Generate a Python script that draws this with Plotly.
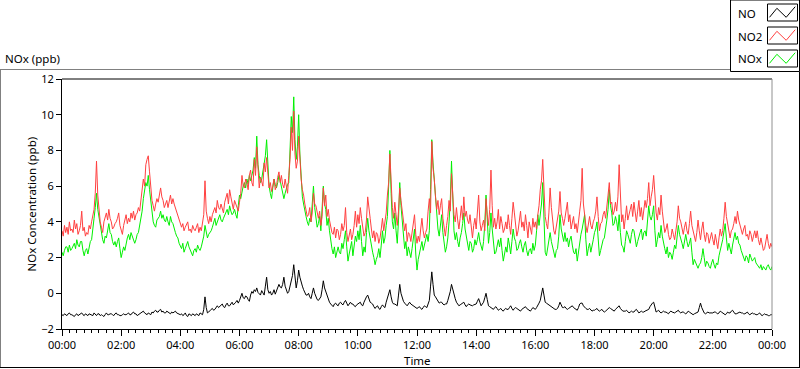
import pandas as pd
import plotly.graph_objects as go

# ---------------- data ----------------
# main samples every 5 minutes (00:00 .. 24:00, 289 values) and the
# in-between readings at hh:mm+2.5 min (288 values) for each series
times = pd.date_range("2024-01-01 00:00", "2024-01-02 00:00", freq="150s")

no2 = [
    3.5, 3.8, 3.7, 4.0, 3.6, 4.1, 3.9, 3.5, 4.6, 3.7, 3.4, 3.8,
    4.0, 4.7, 7.4, 4.6, 3.7, 4.0, 4.5, 4.7, 4.0, 3.7, 4.0, 4.5,
    3.5, 3.8, 4.4, 4.2, 4.5, 4.6, 4.4, 4.8, 5.2, 6.4, 7.2, 7.7,
    6.0, 4.9, 5.0, 5.1, 5.9, 5.2, 5.0, 4.8, 5.5, 5.3, 4.8, 4.4,
    4.0, 3.9, 3.7, 4.0, 3.6, 3.8, 3.5, 3.9, 3.7, 3.9, 6.3, 4.2,
    4.3, 4.4, 4.8, 5.2, 4.7, 4.8, 5.1, 5.6, 5.8, 5.1, 5.2, 4.8,
    5.1, 6.6, 5.9, 6.2, 6.6, 6.2, 7.5, 8.2, 5.9, 6.2, 7.3, 7.6,
    5.9, 5.7, 6.4, 6.0, 6.8, 6.6, 5.9, 6.0, 6.6, 9.3, 10.2, 7.0,
    8.8, 6.4, 5.5, 4.7, 4.4, 4.0, 5.6, 4.9, 4.2, 3.8, 5.9, 5.5,
    4.7, 3.8, 3.3, 3.1, 3.5, 3.3, 3.5, 4.8, 2.9, 3.6, 3.3, 4.6,
    4.4, 4.8, 3.6, 3.4, 5.4, 4.2, 3.1, 2.9, 3.3, 3.1, 4.2, 4.0,
    5.5, 7.8, 4.8, 5.1, 3.8, 5.9, 4.7, 3.5, 2.9, 3.3, 3.4, 4.4,
    2.8, 2.9, 4.2, 3.1, 3.6, 5.3, 8.5, 6.4, 4.7, 4.4, 5.3, 3.5,
    3.8, 5.2, 6.7, 4.4, 4.8, 3.6, 4.9, 5.4, 4.6, 3.9, 3.5, 3.8,
    3.6, 5.5, 3.5, 4.1, 5.3, 3.8, 6.9, 3.7, 3.6, 4.7, 4.3, 3.4,
    4.0, 4.4, 3.3, 5.1, 4.0, 3.5, 4.6, 4.0, 4.4, 3.1, 3.6, 4.2,
    4.0, 4.4, 5.8, 7.5, 4.3, 3.6, 5.9, 4.0, 3.3, 4.0, 5.7, 4.2,
    4.2, 5.1, 4.4, 4.0, 3.6, 3.4, 4.6, 7.0, 4.2, 3.4, 4.3, 3.6,
    4.2, 5.4, 3.5, 4.0, 4.6, 5.1, 6.2, 5.1, 4.6, 4.6, 7.2, 4.0,
    3.6, 4.9, 4.5, 5.0, 5.1, 4.0, 5.2, 4.8, 4.6, 4.8, 6.2, 5.4,
    6.6, 4.5, 4.8, 5.5, 4.0, 3.6, 3.3, 3.1, 3.3, 3.5, 4.9, 4.0,
    3.3, 4.0, 3.3, 4.6, 3.5, 2.9, 4.1, 3.0, 4.0, 2.9, 3.3, 3.1,
    3.0, 3.3, 2.5, 3.6, 3.5, 5.1, 3.8, 3.1, 3.6, 4.3, 4.6, 3.8,
    3.3, 3.8, 3.3, 3.5, 2.9, 3.5, 3.5, 2.7, 2.7, 2.5, 3.3, 2.5,
    2.6,
]
no2_mid = [
    3.2, 3.4, 3.3, 3.5, 3.4, 3.6, 3.3, 3.8, 3.5, 3.2, 3.3, 3.6,
    4.3, 5.6, 5.5, 4.0, 3.4, 4.3, 4.1, 4.2, 3.6, 3.9, 4.2, 3.8,
    3.3, 4.1, 3.9, 4.0, 4.2, 4.1, 4.5, 4.6, 5.8, 6.0, 7.5, 6.8,
    5.2, 4.6, 5.3, 5.5, 5.4, 4.8, 5.2, 5.1, 5.0, 5.0, 4.5, 4.1,
    3.7, 3.5, 3.9, 3.5, 3.4, 3.6, 3.7, 3.4, 3.5, 4.4, 4.6, 3.9,
    4.0, 4.6, 4.5, 4.8, 5.0, 4.5, 5.3, 5.0, 5.4, 4.7, 5.0, 4.6,
    5.6, 6.0, 6.4, 5.8, 6.9, 6.0, 6.6, 6.8, 6.5, 6.0, 6.8, 6.4,
    6.2, 6.0, 5.8, 6.5, 6.2, 6.1, 6.4, 5.6, 7.5, 8.0, 7.8, 7.4,
    7.2, 5.8, 5.0, 4.3, 4.8, 4.5, 5.0, 4.5, 4.6, 4.3, 4.9, 4.3,
    4.1, 3.4, 3.7, 3.6, 3.0, 3.9, 3.8, 3.4, 3.3, 3.0, 3.8, 3.7,
    3.9, 4.2, 3.2, 4.1, 4.6, 3.6, 3.5, 3.4, 2.8, 3.6, 3.5, 4.5,
    6.2, 6.0, 4.2, 4.4, 4.6, 5.2, 4.0, 3.9, 3.4, 2.9, 3.9, 3.3,
    3.2, 3.6, 3.5, 3.4, 4.6, 4.5, 7.0, 5.4, 5.2, 4.9, 4.2, 3.2,
    4.3, 4.6, 5.2, 4.0, 4.1, 4.2, 4.1, 4.3, 4.1, 4.4, 3.1, 4.2,
    4.4, 4.0, 3.8, 3.5, 4.4, 4.7, 4.9, 4.2, 4.0, 3.6, 3.9, 3.6,
    3.6, 3.8, 4.2, 4.5, 3.2, 4.0, 3.7, 3.5, 3.8, 4.0, 3.3, 3.7,
    3.6, 4.9, 6.3, 5.6, 3.9, 4.5, 4.8, 3.5, 3.7, 4.6, 4.5, 3.8,
    4.6, 4.0, 3.6, 4.3, 3.9, 3.9, 5.2, 5.0, 3.8, 3.9, 3.8, 4.0,
    4.6, 4.3, 3.9, 4.4, 4.2, 5.5, 5.0, 4.4, 5.1, 5.4, 5.0, 4.4,
    4.2, 4.1, 4.7, 4.3, 4.5, 4.6, 4.3, 4.1, 5.2, 5.3, 4.9, 5.8,
    5.2, 4.1, 4.4, 4.6, 3.4, 3.9, 3.0, 3.6, 3.0, 4.0, 4.2, 3.6,
    3.7, 3.5, 3.9, 3.8, 3.2, 3.4, 3.5, 3.6, 3.3, 3.4, 2.8, 3.4,
    2.7, 2.9, 3.1, 3.2, 4.2, 4.3, 3.4, 3.5, 3.9, 3.9, 4.1, 3.5,
    3.6, 3.2, 3.0, 3.3, 3.2, 3.1, 3.0, 3.1, 2.4, 2.9, 2.8, 2.8,
]

nox = [
    2.3, 2.4, 2.6, 2.7, 2.5, 2.8, 3.0, 2.6, 2.9, 2.1, 2.5, 2.7,
    3.0, 4.2, 5.6, 4.2, 3.4, 2.8, 3.1, 3.9, 3.3, 2.7, 2.6, 3.1,
    2.0, 2.6, 2.9, 3.3, 3.4, 3.1, 3.0, 3.4, 4.2, 5.3, 6.2, 6.6,
    5.1, 4.0, 3.7, 4.2, 4.6, 4.4, 4.0, 4.0, 4.3, 3.9, 3.4, 3.1,
    2.6, 2.8, 2.5, 2.9, 2.4, 2.1, 2.5, 2.7, 2.4, 2.9, 3.8, 3.1,
    3.4, 3.7, 4.2, 4.0, 4.4, 4.0, 4.4, 4.7, 4.9, 4.4, 4.7, 4.2,
    5.5, 5.7, 6.2, 6.4, 6.6, 6.6, 7.6, 8.8, 6.6, 6.4, 7.2, 8.6,
    6.0, 5.3, 6.4, 5.9, 6.6, 6.0, 5.3, 5.9, 6.2, 9.9, 11.0, 7.5,
    10.0, 6.3, 5.0, 4.3, 3.8, 4.0, 6.0, 4.2, 3.9, 3.5, 6.0, 4.7,
    4.2, 2.8, 2.2, 2.0, 2.6, 2.2, 2.5, 3.5, 1.8, 2.5, 2.1, 3.2,
    3.5, 3.8, 2.1, 2.3, 4.2, 3.0, 2.3, 1.6, 2.1, 2.0, 3.5, 3.1,
    4.3, 8.0, 4.0, 4.5, 2.8, 6.2, 3.9, 2.5, 2.1, 2.3, 2.5, 3.6,
    1.3, 2.3, 2.9, 2.7, 3.3, 3.5, 8.6, 6.4, 4.2, 3.2, 4.4, 2.8,
    2.6, 4.0, 7.4, 3.5, 3.4, 2.6, 3.4, 4.5, 3.2, 2.4, 2.8, 2.5,
    2.7, 3.4, 2.6, 2.9, 5.5, 2.8, 4.5, 2.6, 2.3, 3.0, 3.1, 1.8,
    2.6, 3.1, 2.2, 3.6, 2.9, 2.5, 3.0, 2.3, 2.9, 2.1, 2.5, 2.8,
    2.7, 4.4, 4.4, 6.2, 2.3, 2.6, 3.4, 2.6, 2.0, 2.5, 4.4, 3.3,
    3.4, 3.1, 3.0, 2.7, 2.2, 1.8, 3.0, 3.6, 4.4, 2.1, 2.8, 2.6,
    3.4, 4.0, 2.1, 2.7, 3.1, 4.1, 5.8, 4.5, 3.9, 4.0, 4.4, 2.7,
    2.3, 3.5, 3.0, 3.3, 3.5, 2.6, 3.2, 3.6, 3.4, 3.2, 4.9, 4.1,
    4.9, 2.6, 3.4, 3.8, 2.7, 2.2, 2.0, 2.2, 2.3, 2.5, 3.8, 3.1,
    2.5, 3.3, 2.6, 3.1, 1.6, 1.7, 1.4, 1.7, 2.5, 1.5, 1.7, 1.4,
    1.9, 1.4, 1.6, 2.5, 3.0, 3.9, 2.4, 2.5, 2.7, 3.4, 3.2, 2.7,
    2.2, 1.8, 2.0, 2.2, 1.8, 2.0, 1.6, 1.4, 1.3, 1.4, 1.5, 1.4,
    1.5,
]
nox_mid = [
    2.1, 2.6, 2.3, 2.4, 2.7, 2.5, 2.7, 2.9, 2.4, 2.4, 2.2, 2.9,
    3.5, 4.8, 4.7, 3.7, 3.0, 3.2, 3.5, 3.4, 2.9, 2.9, 2.9, 2.5,
    2.3, 2.4, 3.1, 3.0, 3.2, 2.8, 3.3, 3.8, 4.6, 5.9, 6.0, 5.8,
    4.4, 3.8, 4.1, 4.3, 4.2, 4.1, 4.3, 3.8, 4.0, 3.6, 3.2, 2.8,
    2.5, 2.3, 2.7, 2.6, 2.2, 2.4, 2.3, 2.5, 2.6, 3.2, 3.3, 3.3,
    3.5, 3.9, 3.8, 4.2, 4.1, 4.2, 4.6, 4.4, 4.6, 4.5, 4.4, 4.9,
    5.3, 6.0, 5.9, 6.1, 6.3, 6.9, 7.0, 7.2, 6.2, 6.8, 7.7, 6.8,
    5.6, 5.9, 6.1, 6.2, 6.3, 5.6, 5.6, 6.1, 7.7, 9.0, 8.6, 8.2,
    7.8, 5.4, 4.5, 4.0, 4.2, 5.0, 4.8, 3.7, 4.3, 4.6, 5.0, 3.8,
    3.5, 2.5, 2.6, 2.4, 2.3, 2.8, 3.0, 2.6, 2.2, 2.9, 2.6, 2.9,
    3.0, 2.9, 2.6, 3.4, 3.5, 2.6, 2.0, 1.9, 2.5, 2.7, 2.8, 3.8,
    6.0, 5.6, 3.6, 3.5, 4.1, 4.9, 3.1, 2.9, 2.6, 2.0, 3.0, 2.2,
    1.9, 2.6, 2.4, 3.0, 2.9, 5.8, 7.3, 5.2, 3.6, 3.8, 3.4, 2.3,
    3.1, 5.2, 5.0, 3.0, 2.9, 3.1, 3.9, 3.6, 2.7, 2.9, 2.3, 3.0,
    3.0, 2.9, 2.4, 3.9, 4.0, 3.4, 3.6, 2.2, 2.8, 2.6, 2.4, 2.2,
    2.3, 2.7, 2.9, 3.1, 2.4, 2.8, 2.6, 2.7, 2.4, 2.4, 2.2, 2.4,
    3.5, 3.8, 5.0, 4.1, 2.1, 3.0, 2.9, 2.2, 2.4, 3.2, 3.6, 2.9,
    2.9, 2.6, 3.2, 2.3, 2.5, 2.4, 3.3, 4.0, 3.0, 2.5, 2.3, 3.0,
    3.6, 3.0, 2.4, 3.0, 3.5, 4.7, 4.9, 3.8, 4.3, 3.5, 3.4, 2.6,
    2.9, 3.3, 2.8, 3.6, 3.0, 2.9, 3.4, 3.0, 3.5, 3.9, 4.3, 4.4,
    3.5, 3.0, 3.1, 3.2, 2.5, 2.6, 2.3, 1.9, 2.7, 3.1, 3.3, 2.8,
    2.9, 2.9, 2.8, 2.3, 1.9, 1.5, 1.6, 2.0, 2.0, 1.8, 1.5, 1.7,
    1.6, 1.7, 2.1, 2.7, 3.4, 3.1, 2.8, 2.2, 3.0, 3.0, 2.8, 2.4,
    2.0, 2.1, 1.7, 2.0, 1.9, 1.7, 1.5, 1.6, 1.5, 1.3, 1.6, 1.3,
]

no = [
    -1.2, -1.15, -1.25, -1.1, -1.2, -1.3, -1.15, -1.2, -1.1, -1.25, -1.2, -1.15,
    -1.2, -1.1, -1.25, -1.15, -1.2, -1.3, -1.1, -1.2, -1.15, -1.25, -1.1, -1.2,
    -1.25, -1.15, -1.2, -1.1, -1.2, -1.05, -1.15, -1.2, -1.1, -1.0, -1.15, -1.1,
    -1.2, -1.1, -0.95, -1.05, -0.9, -1.0, -1.1, -1.05, -1.15, -1.1, -1.0, -1.15,
    -1.2, -1.25, -1.1, -1.3, -1.2, -1.15, -1.25, -1.2, -1.1, -1.2, -0.2, -1.1,
    -0.95, -0.85, -0.9, -0.7, -0.75, -0.6, -0.8, -0.55, -0.7, -0.5, -0.6, -0.4,
    -0.4, 0.0, -0.3, -0.2, -0.45, 0.1, 0.2, 0.3, 0.0, 0.15, -0.1, 0.9,
    0.0, -0.1, 0.2, 0.1, 0.5, 0.3, 0.9, 0.2, 0.1, 0.6, 1.6, 0.3,
    1.3, 0.6, 0.2, -0.1, 0.0, -0.3, 0.3, -0.2, -0.4, -0.2, 0.7, 0.1,
    -0.3, -0.6, -0.75, -0.55, -0.7, -0.5, -0.65, -0.4, -0.7, -0.5, -0.6, -0.75,
    -0.6, -0.5, -0.7, -0.3, -0.1, -0.5, -0.6, -0.85, -0.7, -0.9, -0.65, -0.8,
    -0.3, 0.2, -0.5, -0.6, -0.7, 0.5, -0.3, -0.55, -0.7, -0.5, -0.65, -0.7,
    -0.85, -0.75, -0.9, -0.7, -0.8, -0.4, 1.2, -0.1, -0.3, -0.55, -0.5, -0.65,
    -0.6, -0.2, 0.5, -0.1, -0.5, -0.7, -0.6, -0.5, -0.75, -0.6, -0.7, -0.65,
    -0.6, -0.3, -0.7, -0.5, 0.0, -0.7, -0.8, -0.9, -0.75, -0.95, -0.85, -1.0,
    -0.85, -0.9, -0.7, -0.95, -0.8, -0.9, -1.0, -0.85, -0.75, -0.9, -1.0, -0.8,
    -0.9, -0.7, -0.4, 0.3, -0.5, -0.6, -0.75, -0.8, -0.9, -0.85, -0.5, -0.8,
    -0.75, -0.9, -0.8, -0.7, -0.85, -0.95, -0.6, -0.55, -0.8, -0.9, -0.85, -1.0,
    -0.95, -0.85, -1.0, -0.9, -1.05, -0.95, -0.8, -0.9, -1.0, -0.85, -0.7, -0.95,
    -1.0, -0.95, -1.1, -1.0, -1.05, -0.9, -1.1, -1.0, -1.05, -0.95, -0.9, -0.6,
    -0.5, -1.05, -0.95, -1.1, -1.0, -1.05, -1.15, -1.0, -1.1, -1.05, -0.95, -1.1,
    -1.05, -1.15, -1.0, -1.1, -1.2, -1.1, -1.05, -0.55, -1.0, -1.15, -1.05, -1.1,
    -1.1, -1.05, -1.15, -1.0, -1.1, -1.2, -1.05, -1.1, -0.95, -1.15, -1.1, -1.05,
    -1.1, -1.15, -1.05, -1.2, -1.1, -1.15, -1.2, -1.1, -1.25, -1.15, -1.2, -1.25,
    -1.2,
]
no_mid = [
    -1.25, -1.2, -1.15, -1.2, -1.25, -1.2, -1.25, -1.15, -1.2, -1.15, -1.25, -1.2,
    -1.25, -1.2, -1.15, -1.25, -1.25, -1.2, -1.2, -1.15, -1.2, -1.15, -1.2, -1.25,
    -1.2, -1.2, -1.15, -1.2, -1.1, -1.15, -1.25, -1.1, -1.05, -1.1, -1.2, -1.15,
    -1.05, -1.0, -1.05, -0.95, -1.05, -1.1, -1.0, -1.15, -1.05, -1.05, -1.1, -1.2,
    -1.15, -1.2, -1.25, -1.15, -1.25, -1.2, -1.15, -1.25, -1.15, -0.9, -0.8, -1.05,
    -0.9, -0.95, -0.8, -0.8, -0.65, -0.75, -0.65, -0.7, -0.6, -0.65, -0.5, -0.55,
    -0.2, -0.25, -0.15, -0.35, -0.1, 0.0, 0.1, 0.05, -0.1, 0.05, 0.4, 0.2,
    0.1, 0.0, -0.05, 0.3, 0.35, 0.5, 0.4, 0.0, 0.4, 1.0, 0.9, 0.7,
    0.9, 0.4, 0.0, -0.1, -0.2, 0.0, 0.0, -0.35, -0.3, 0.2, 0.3, -0.2,
    -0.5, -0.7, -0.6, -0.65, -0.55, -0.6, -0.5, -0.55, -0.6, -0.6, -0.7, -0.65,
    -0.55, -0.65, -0.5, -0.2, -0.35, -0.55, -0.75, -0.75, -0.85, -0.75, -0.75, -0.5,
    -0.1, -0.2, -0.6, -0.65, -0.1, 0.0, -0.45, -0.65, -0.6, -0.6, -0.7, -0.8,
    -0.8, -0.85, -0.8, -0.75, -0.6, 0.4, 0.5, -0.2, -0.45, -0.5, -0.6, -0.6,
    -0.4, 0.1, 0.2, -0.3, -0.6, -0.65, -0.55, -0.65, -0.65, -0.65, -0.7, -0.6,
    -0.45, -0.5, -0.6, -0.25, -0.35, -0.75, -0.85, -0.8, -0.85, -0.9, -0.95, -0.9,
    -0.9, -0.8, -0.85, -0.85, -0.85, -0.95, -0.9, -0.8, -0.85, -0.95, -0.9, -0.85,
    -0.8, -0.55, -0.05, -0.1, -0.55, -0.7, -0.8, -0.85, -0.9, -0.7, -0.65, -0.8,
    -0.85, -0.85, -0.75, -0.8, -0.9, -0.8, -0.55, -0.7, -0.85, -0.9, -0.95, -0.95,
    -0.9, -0.95, -0.95, -1.0, -1.0, -0.9, -0.85, -0.95, -0.9, -0.8, -0.85, -1.0,
    -1.0, -1.05, -1.05, -1.05, -0.95, -1.0, -1.05, -1.05, -1.0, -0.95, -0.75, -0.55,
    -0.8, -1.0, -1.05, -1.05, -1.05, -1.1, -1.05, -1.05, -1.1, -1.0, -1.05, -1.05,
    -1.1, -1.1, -1.05, -1.15, -1.15, -1.1, -0.8, -0.8, -1.1, -1.1, -1.1, -1.1,
    -1.05, -1.1, -1.1, -1.05, -1.15, -1.15, -1.1, -1.0, -1.05, -1.15, -1.05, -1.1,
    -1.15, -1.1, -1.15, -1.15, -1.15, -1.2, -1.15, -1.2, -1.2, -1.2, -1.25, -1.2,
]

series_names = ["NO", "NO2", "NOx"]
series_colors = {"NO": "#000000", "NO2": "#FF4040", "NOx": "#00F000"}
y_ticks = [-2, 0, 2, 4, 6, 8, 10, 12]


def interleave(main, mid):
    out = []
    for a, b in zip(main[:-1], mid):
        out.extend([a, b])
    out.append(main[-1])
    return out


y_no = interleave(no, no_mid)
y_no2 = interleave(no2, no2_mid)
y_nox = interleave(nox, nox_mid)

# ---------------- figure ----------------
W, H = 800, 369
ML, MR, MT, MB = 62, 28, 79, 40
PW, PH = W - ML - MR, H - MT - MB


def px(x):
    return (x - ML) / PW


def py(y):
    return (H - MB - y) / PH


FONT = "Noto Sans"
fig = go.Figure()
fig.add_trace(go.Scatter(x=times, y=y_no, mode="lines", name="NO",
                         line=dict(color=series_colors["NO"], width=1)))
fig.add_trace(go.Scatter(x=times, y=y_nox, mode="lines", name="NOx",
                         line=dict(color=series_colors["NOx"], width=1)))
fig.add_trace(go.Scatter(x=times, y=y_no2, mode="lines", name="NO2",
                         line=dict(color=series_colors["NO2"], width=1)))

fig.update_layout(
    width=W, height=H,
    margin=dict(l=ML, r=MR, t=MT, b=MB, pad=0),
    paper_bgcolor="white", plot_bgcolor="white",
    showlegend=False, hovermode=False,
    font=dict(family=FONT, size=11, color="#000000"),
)
fig.update_xaxes(
    type="date", range=[times[0], times[-1]],
    tick0=times[0], dtick=2 * 3600 * 1000, tickformat="%H:%M",
    ticks="outside", ticklen=6, tickwidth=1, tickcolor="#000000",
    minor=dict(dtick=15 * 60 * 1000, ticks="outside", ticklen=3,
               tickwidth=1, tickcolor="#000000", showgrid=False),
    showline=True, linecolor="#000000", linewidth=1,
    showgrid=False, zeroline=False,
    tickfont=dict(family=FONT, size=11, color="#000000"),
)
fig.update_yaxes(
    range=[-2, 12], tickvals=y_ticks,
    ticks="outside", ticklen=5, tickwidth=1, tickcolor="#000000",
    showline=True, linecolor="#000000", linewidth=1,
    showgrid=False, zeroline=False,
    tickfont=dict(family=FONT, size=11, color="#000000"),
)

shapes = []
# plot-area top (black) and right (gray) edges
shapes.append(dict(type="line", xref="paper", yref="paper", x0=0, x1=1, y0=1, y1=1,
                   line=dict(color="#000000", width=1)))
shapes.append(dict(type="line", xref="paper", yref="paper", x0=1, x1=1, y0=0, y1=1,
                   line=dict(color="#909090", width=1)))
# outer panel frame
shapes.append(dict(type="line", xref="paper", yref="paper", x0=px(0), x1=px(730),
                   y0=py(69.5), y1=py(69.5), line=dict(color="#808080", width=1)))
shapes.append(dict(type="line", xref="paper", yref="paper", x0=px(0.5), x1=px(0.5),
                   y0=py(69.5), y1=py(367.5), line=dict(color="#808080", width=1)))
shapes.append(dict(type="line", xref="paper", yref="paper", x0=px(0), x1=px(800),
                   y0=py(367.5), y1=py(367.5), line=dict(color="#000000", width=1)))
shapes.append(dict(type="line", xref="paper", yref="paper", x0=px(799.5), x1=px(799.5),
                   y0=py(71.5), y1=py(367.5), line=dict(color="#000000", width=1)))
# legend box
shapes.append(dict(type="rect", xref="paper", yref="paper", x0=px(730.5), x1=px(799.5),
                   y0=py(71.5), y1=py(0), line=dict(color="#000000", width=1),
                   fillcolor="white"))

annotations = []
swatch_tops = [4, 27, 50]
for name, top in zip(series_names, swatch_tops):
    x0 = 767.5
    shapes.append(dict(type="rect", xref="paper", yref="paper", x0=px(x0), x1=px(797.5),
                       y0=py(top), y1=py(top + 17), line=dict(color="#000000", width=1),
                       fillcolor="white"))
    pts = [(x0 + 2, top + 13.3), (x0 + 9.4, top + 4.3), (x0 + 18.7, top + 13.3),
           (x0 + 27.7, top + 2.7)]
    path = "M " + " L ".join(f"{px(a)},{py(b)}" for a, b in pts)
    shapes.append(dict(type="path", xref="paper", yref="paper", path=path,
                       line=dict(color=series_colors[name], width=1)))
    annotations.append(dict(text=name, xref="paper", yref="paper", x=px(736),
                            y=py(top + 9), xanchor="left", yanchor="middle",
                            showarrow=False, font=dict(family=FONT, size=11.5, color="#000000")))

annotations.append(dict(text="NOx (ppb)", xref="paper", yref="paper", x=px(3),
                        y=py(58.5), xanchor="left", yanchor="middle", showarrow=False,
                        font=dict(family=FONT, size=11.5, color="#000000")))
annotations.append(dict(text="NOx Concentration (ppb)", xref="paper", yref="paper",
                        x=px(30.5), y=py(204), xanchor="center", yanchor="middle",
                        textangle=-90, showarrow=False,
                        font=dict(family=FONT, size=11.5, color="#000000")))
annotations.append(dict(text="Time", xref="paper", yref="paper", x=px(417),
                        y=py(360), xanchor="center", yanchor="middle", showarrow=False,
                        font=dict(family=FONT, size=11.5, color="#000000")))

fig.update_layout(shapes=shapes, annotations=annotations)
fig.write_html(
    "out.html",
    config={"displayModeBar": False},
    post_script="document.body.style.margin='0';document.body.style.overflow='hidden';",
)
